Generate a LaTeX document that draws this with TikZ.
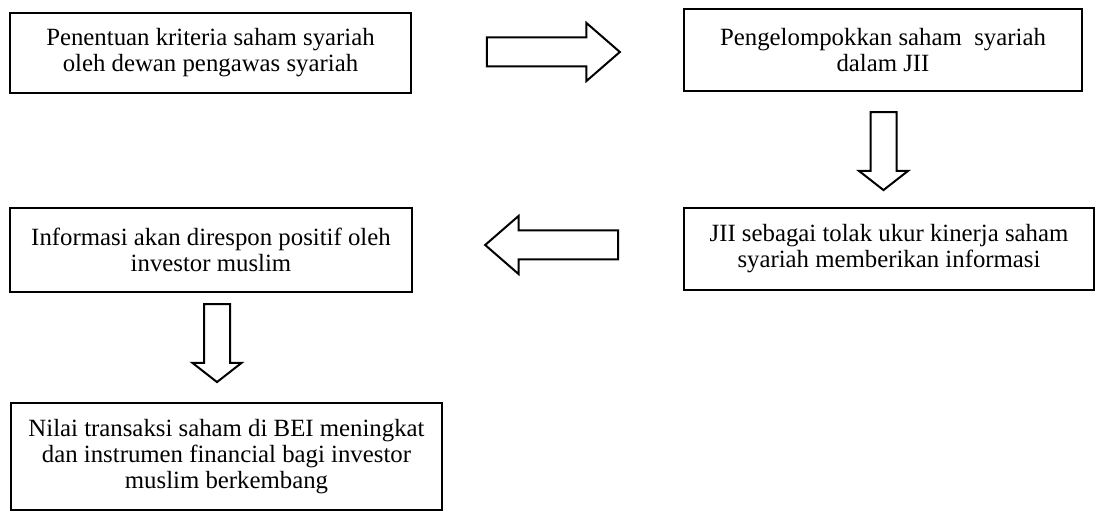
\documentclass[tikz,border=0pt]{standalone}
\usepackage{fontspec}
\setmainfont{Liberation Serif}
\usetikzlibrary{shapes.arrows}
\tikzset{
  stepbox/.style={rectangle, draw, line width=1pt, align=center, inner sep=2pt,
    font=\fontsize{12.4}{13}\selectfont},
  blockright/.style={single arrow, draw, line width=1pt, inner sep=6.75pt,
    minimum width=0pt, single arrow head extend=7.25pt, single arrow tip angle=82,
    minimum height=66.5pt},
  blockdown/.style={single arrow, draw, line width=1pt, inner sep=6pt,
    minimum width=0pt, single arrow head extend=5.75pt, single arrow tip angle=104,
    minimum height=39pt, shape border rotate=270}
}

\begin{document}
\begin{tikzpicture}[x=0.5pt, y=-0.5pt]
  \useasboundingbox (0,0) rectangle (1103,512);
  \node [stepbox, minimum width=200.5pt, minimum height=40pt] at (210.5,53) (crit)
    {Penentuan kriteria saham syariah\\oleh dewan pengawas syariah};
  \node [stepbox, minimum width=199pt, minimum height=41pt] at (883,50) (group)
    {Pengelompokkan saham~ syariah\\dalam JII};
  \node [stepbox, minimum width=205pt, minimum height=41pt] at (889,249) (bench)
    {JII sebagai tolak ukur kinerja saham\\syariah memberikan informasi};
  \node [stepbox, minimum width=201pt, minimum height=42pt] at (211,250) (resp)
    {Informasi akan direspon positif oleh\\investor muslim};
  \node [stepbox, minimum width=215.5pt, minimum height=53.5pt] at (226.5,456.5) (growth)
    {Nilai transaksi saham di BEI meningkat\\dan instrumen financial bagi investor\\muslim berkembang};
  % block arrows between the steps
  \node [blockright] at (545,52) (critgroup) {};
  \node [blockdown] at (883.5,146) (groupbench) {};
  \node [blockright, shape border rotate=180] at (560,245) (benchresp) {};
  \node [blockdown] at (217,338) (respgrowth) {};
\end{tikzpicture}
\end{document}
